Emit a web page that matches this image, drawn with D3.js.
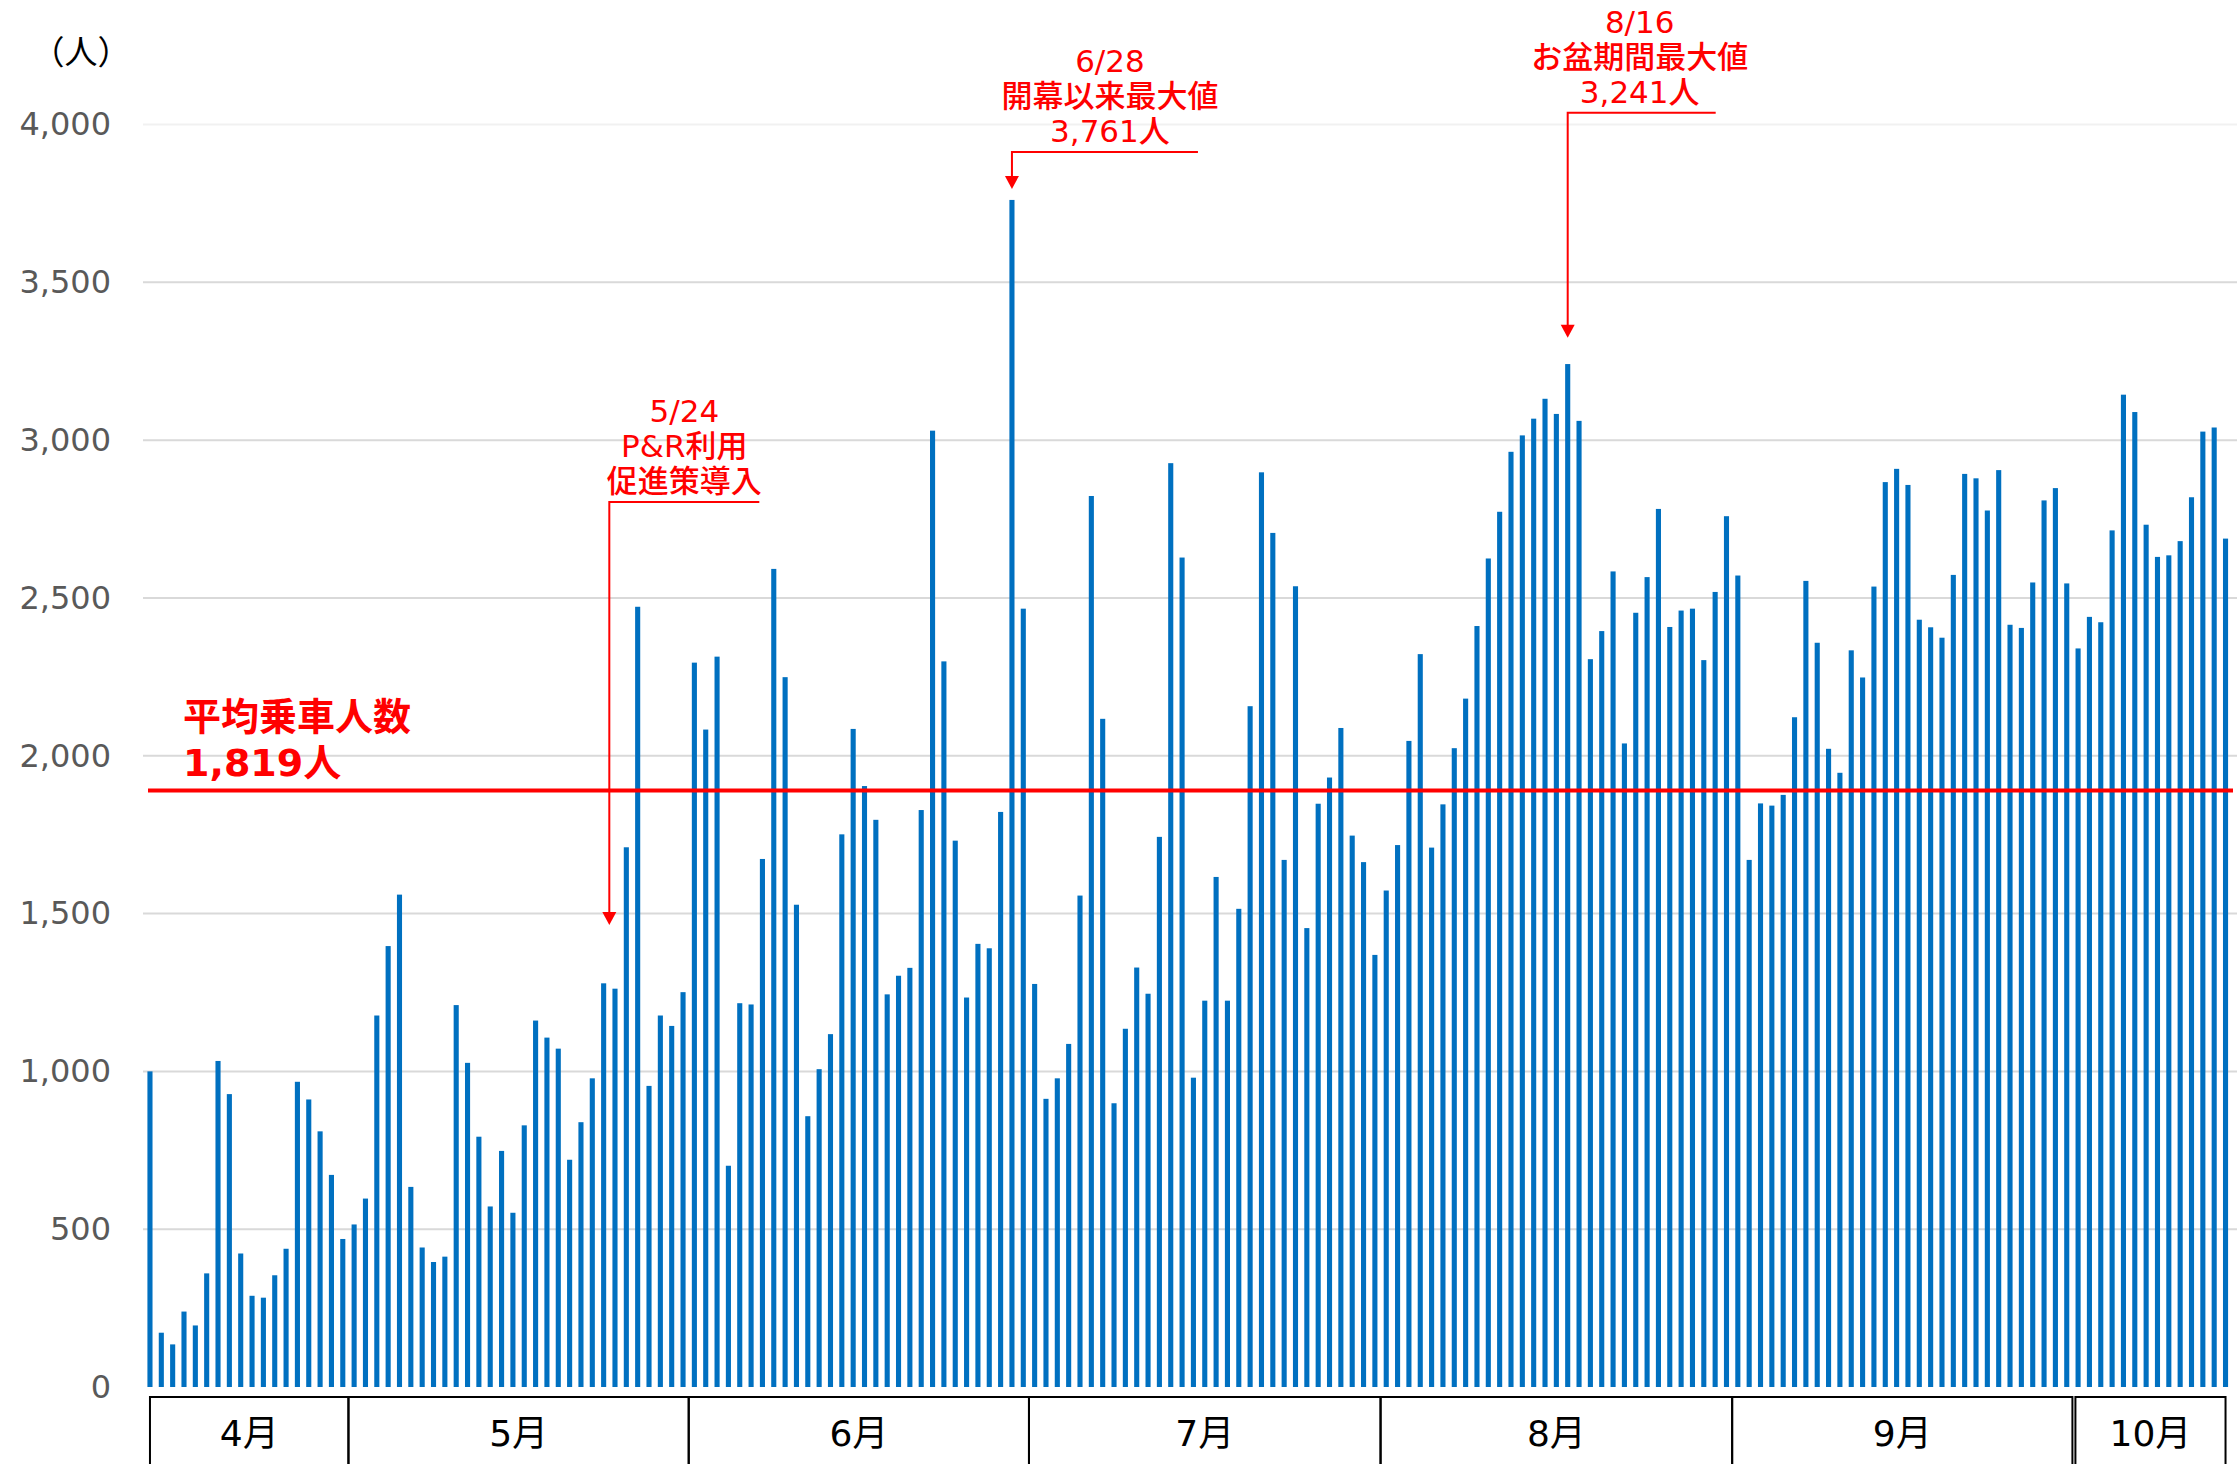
<!DOCTYPE html>
<html>
<head>
<meta charset="utf-8">
<script src="https://cdn.jsdelivr.net/npm/d3@7/dist/d3.min.js"></script>
<style>
    body { margin: 0; background: #fff; }
    svg { display: block; }
</style>
</head>
<body>
<div id="wrap"></div>
<script>

// daily riders, one array per calendar month (4/13 - 10/13)
var aprRiders = [1000, 172, 135, 239, 195, 360, 1033, 928, 423, 289, 283, 354, 438, 967, 911, 810, 672, 469];
var mayRiders = [515, 597, 1177, 1397, 1560, 634, 442, 396, 413, 1210, 1027, 793, 572, 748, 552, 829, 1161, 1107,
                 1072, 720, 839, 978, 1279, 1262, 1710, 2472, 954, 1177, 1144, 1251, 2295];
var junRiders = [2083, 2314, 701, 1216, 1212, 1673, 2592, 2249, 1528, 858, 1007, 1118, 1751, 2085, 1904, 1797, 1244,
                 1303, 1328, 1828, 3030, 2299, 1731, 1234, 1404, 1390, 1822, 3761, 2466, 1277];
var julRiders = [913, 978, 1087, 1557, 2823, 2117, 899, 1135, 1329, 1246, 1743, 2927, 2628, 980, 1224, 1616, 1224,
                 1515, 2157, 2898, 2706, 1670, 2537, 1454, 1848, 1931, 2088, 1747, 1663, 1369, 1573];
var augRiders = [1717, 2047, 2322, 1709, 1846, 2024, 2181, 2411, 2625, 2773, 2963, 3015, 3068, 3131, 3083, 3241,
                 3061, 2306, 2395, 2584, 2039, 2453, 2566, 2782, 2408, 2460, 2466, 2303, 2519, 2759, 2571];
var sepRiders = [1670, 1849, 1842, 1876, 2122, 2554, 2358, 2022, 1946, 2334, 2248, 2536, 2867, 2909, 2858, 2431,
                 2407, 2374, 2573, 2893, 2879, 2777, 2905, 2415, 2405, 2549, 2809, 2848, 2546, 2340];
var octRiders = [2440, 2423, 2714, 3144, 3089, 2732, 2630, 2635, 2680, 2819, 3027, 3040, 2688];

var monthNums = [4, 5, 6, 7, 8, 9, 10];
var firstDay = [13, 1, 1, 1, 1, 1, 1];

// month boxes under the bars, as they are drawn in the original (days per box)
var monthLabels = ["4月", "5月", "6月", "7月", "8月", "9月", "10月"];
var monthBoxDays = [18, 30, 30, 31, 31, 30, 14];

var yTicks = [0, 500, 1000, 1500, 2000, 2500, 3000, 3500, 4000];

var avgLabel = ["平均乗車人数", "1,819人"];
var avgLineAt = 1890;   // the red line sits here in the original, not at 1,819

var annotations = [
    { date: "5/24", lines: ["5/24", "P&R利用", "促進策導入"] },
    { date: "6/28", lines: ["6/28", "開幕以来最大値", "3,761人"] },
    { date: "8/16", lines: ["8/16", "お盆期間最大値", "3,241人"] }
];


// build the day list
var days = [];
[aprRiders, mayRiders, junRiders, julRiders, augRiders, sepRiders, octRiders].forEach(function(arr, mi) {
    arr.forEach(function(v, di) {
        days.push({ date: monthNums[mi] + "/" + (firstDay[mi] + di), value: v });
    });
});

var W = 2237, H = 1464;

var svg = d3.select('#wrap').append("svg")
    .attr("width", W)
    .attr("height", H)
    .style("font-family", "'DejaVu Sans', 'Noto Sans CJK JP', sans-serif");

var x = d3.scaleBand()
    .domain(d3.range(days.length))
    .range([144.3, 2231.2])
    .paddingInner(0.55)
    .paddingOuter(0.275);

var y = d3.scaleLinear()
    .domain([0, 4000])
    .range([1387, 124.5]);

var step = x.step();
var xc = function(i) { return x(i) + x.bandwidth() / 2; };
var dayIndex = function(d) { return days.findIndex(function(e) { return e.date === d; }); };


// gridlines
svg.append("g").selectAll("line")
    .data(yTicks.filter(function(t) { return t > 0; }))
    .enter()
    .append("line")
    .attr("x1", 143)
    .attr("x2", W)
    .attr("y1", function(d) { return y(d); })
    .attr("y2", function(d) { return y(d); })
    .attr("stroke", function(d) { return d === 4000 ? "#f1f1f1" : "#d9d9d9"; })
    .attr("stroke-width", 2);

// y axis labels
var yAxis = svg.append("g")
    .attr("transform", "translate(111,0)")
    .call(d3.axisLeft(y).tickValues(yTicks).tickFormat(d3.format(",")).tickSize(0).tickPadding(0));
yAxis.select(".domain").remove();
yAxis.selectAll("text")
    .attr("fill", "#595959")
    .style("font-family", "'DejaVu Sans', sans-serif")
    .style("font-size", "32px");

svg.append("text")
    .attr("x", 81)
    .attr("y", 64)
    .attr("text-anchor", "middle")
    .style("font-family", "'Noto Sans CJK JP', sans-serif")
    .style("font-size", "33px")
    .attr("fill", "#000")
    .text("（人）");


// bars
svg.append("g").selectAll("rect")
    .data(days)
    .enter()
    .append("rect")
    .attr("x", function(d, i) { return x(i); })
    .attr("width", x.bandwidth())
    .attr("y", function(d) { return y(d.value); })
    .attr("height", function(d) { return y(0) - y(d.value); })
    .attr("fill", "#0070c0");


// average line + label
svg.append("line")
    .attr("x1", 148)
    .attr("x2", 2233)
    .attr("y1", y(avgLineAt))
    .attr("y2", y(avgLineAt))
    .attr("stroke", "#ff0000")
    .attr("stroke-width", 4);

svg.append("g").selectAll("text")
    .data(avgLabel)
    .enter()
    .append("text")
    .attr("x", 183)
    .attr("y", function(d, i) { return y(avgLineAt) - 60 + i * 46; })
    .attr("fill", "#ff0000")
    .style("font-size", "38px")
    .style("font-weight", "bold")
    .text(function(d) { return d; });


// month boxes
var kx = function(k) { return xc(0) + k * step; };
var cum = 0;
var boxes = monthBoxDays.map(function(n, i) {
    var k0 = i === 0 ? 0 : cum - 0.5;
    cum += n;
    var k1 = i === monthBoxDays.length - 1 ? cum - 1 : cum - 0.5;
    return { label: monthLabels[i], x0: kx(k0) + (i === monthBoxDays.length - 1 ? 3 : 0), x1: kx(k1) };
});

var mg = svg.append("g");
mg.selectAll("rect")
    .data(boxes)
    .enter()
    .append("rect")
    .attr("x", function(d) { return d.x0; })
    .attr("y", 1397)
    .attr("width", function(d) { return d.x1 - d.x0; })
    .attr("height", 100)
    .attr("fill", "none")
    .attr("stroke", "#000")
    .attr("stroke-width", 2);

mg.selectAll("text")
    .data(boxes)
    .enter()
    .append("text")
    .attr("x", function(d) { return (d.x0 + d.x1) / 2; })
    .attr("y", 1446)
    .attr("text-anchor", "middle")
    .style("font-size", "36px")
    .attr("fill", "#000")
    .text(function(d) { return d.label; });


// annotations: arrow x offset, horizontal line level, length, arrow tip level
var annoLayout = {
    "5/24": { dx: -step / 2, top: 2804, len: 150, tip: 1464, tdx: 0 },
    "6/28": { dx: 0, top: 3913, len: 186, tip: 3796, tdx: 5 },
    "8/16": { dx: 0, top: 4037, len: 148, tip: 3324, tdx: -2 }
};

annotations.forEach(function(a) {

    var lay = annoLayout[a.date];
    var ax = xc(dayIndex(a.date)) + lay.dx;
    var ly = y(lay.top);
    var ty = y(lay.tip);
    var g = svg.append("g");

    g.append("path")
        .attr("d", "M" + (ax + lay.len) + "," + ly + "H" + ax + "V" + (ty - 12))
        .attr("fill", "none")
        .attr("stroke", "#ff0000")
        .attr("stroke-width", 2);

    g.append("path")
        .attr("d", "M" + (ax - 7) + "," + (ty - 13) + "L" + (ax + 7) + "," + (ty - 13) + "L" + ax + "," + ty + "Z")
        .attr("fill", "#ff0000");

    g.selectAll("text")
        .data(a.lines)
        .enter()
        .append("text")
        .attr("x", ax + lay.len / 2 + lay.tdx)
        .attr("y", function(d, i) { return ly - 80 + i * 35; })
        .attr("text-anchor", "middle")
        .attr("fill", "#ff0000")
        .style("font-size", "31px")
        .style("font-weight", 500)
        .text(function(d) { return d; });

});

</script>
</body>
</html>
